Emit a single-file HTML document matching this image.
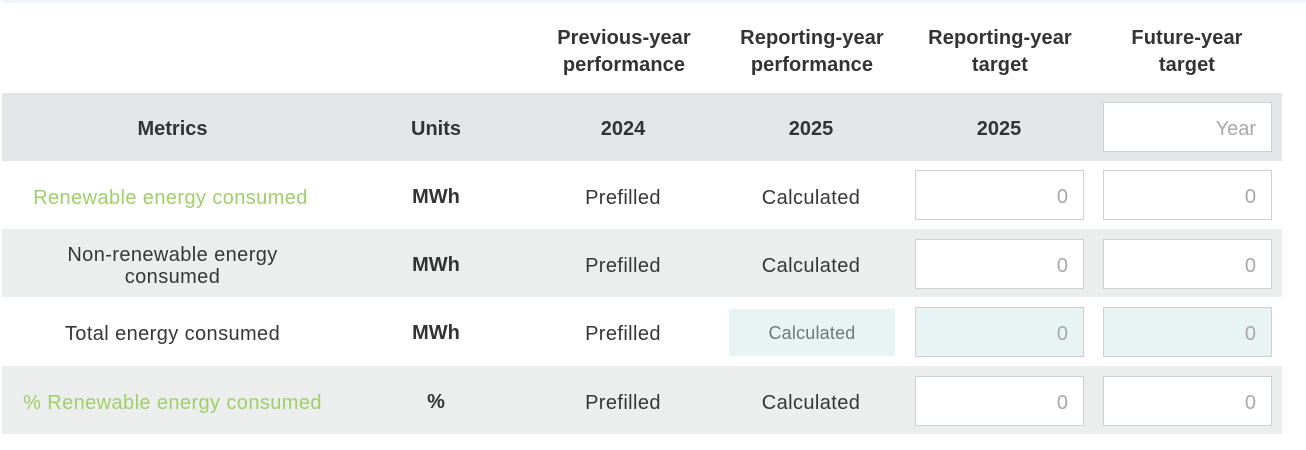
<!DOCTYPE html>
<html>
<head>
<meta charset="utf-8">
<style>
  html,body{margin:0;padding:0;background:#fff;}
  body{width:1306px;height:450px;position:relative;overflow:hidden;font-family:"Liberation Sans",Arial,sans-serif;color:#363636;}
  .abs{position:absolute;}
  .topstrip{left:2px;top:0;width:1304px;height:3px;background:#f4f7fa;}
  .hband{left:2px;top:93px;width:1280px;height:68px;background:#e4e5e7;}
  .gband{left:2px;width:1280px;height:68px;background:#eceeed;}
  .colh{top:25px;width:188px;text-align:center;font-weight:bold;font-size:20px;line-height:27px;color:#333;letter-spacing:0.1px;}
  .cell{display:flex;align-items:center;justify-content:center;text-align:center;height:68px;box-sizing:border-box;padding-top:5px;}
  .hdr{font-weight:bold;font-size:20px;color:#333;}
  .lbl{font-size:20px;letter-spacing:0.4px;color:#363636;line-height:22px;}
  .green{color:#a0cf68;}
  .unit{font-weight:bold;font-size:20px;color:#333;}
  .box{position:absolute;box-sizing:border-box;border:1.5px solid #d0d0d0;background:#fff;width:169px;height:50px;text-align:right;padding-right:15px;padding-top:3px;font-size:20px;line-height:47px;color:#a8a8a8;}
  .teal{background:#e8f4f4;}
</style>
</head>
<body>
<div class="abs topstrip"></div>

<!-- column headers -->
<div class="abs colh" style="left:530px;">Previous-year<br>performance</div>
<div class="abs colh" style="left:718px;">Reporting-year<br>performance</div>
<div class="abs colh" style="left:906px;">Reporting-year<br>target</div>
<div class="abs colh" style="left:1093px;">Future-year<br>target</div>

<!-- header band -->
<div class="abs hband"></div>
<div class="abs cell hdr" style="left:2px;top:93px;width:341px;">Metrics</div>
<div class="abs cell hdr" style="left:343px;top:93px;width:186px;">Units</div>
<div class="abs cell hdr" style="left:529px;top:93px;width:188px;">2024</div>
<div class="abs cell hdr" style="left:717px;top:93px;width:188px;">2025</div>
<div class="abs cell hdr" style="left:905px;top:93px;width:188px;">2025</div>
<div class="box" style="left:1103px;top:102px;">Year</div>

<!-- row 1 -->
<div class="abs cell lbl green" style="left:2px;top:161px;width:337px;">Renewable energy consumed</div>
<div class="abs cell unit" style="left:343px;top:161px;width:186px;">MWh</div>
<div class="abs cell lbl" style="left:529px;top:161px;width:188px;">Prefilled</div>
<div class="abs cell lbl" style="left:717px;top:161px;width:188px;">Calculated</div>
<div class="box" style="left:915px;top:170px;">0</div>
<div class="box" style="left:1103px;top:170px;">0</div>

<!-- row 2 -->
<div class="abs gband" style="top:229px;"></div>
<div class="abs cell lbl" style="left:2px;top:229px;width:341px;">Non-renewable energy<br>consumed</div>
<div class="abs cell unit" style="left:343px;top:229px;width:186px;">MWh</div>
<div class="abs cell lbl" style="left:529px;top:229px;width:188px;">Prefilled</div>
<div class="abs cell lbl" style="left:717px;top:229px;width:188px;">Calculated</div>
<div class="box" style="left:915px;top:239px;">0</div>
<div class="box" style="left:1103px;top:239px;">0</div>

<!-- row 3 -->
<div class="abs cell lbl" style="left:2px;top:297px;width:341px;">Total energy consumed</div>
<div class="abs cell unit" style="left:343px;top:297px;width:186px;">MWh</div>
<div class="abs cell lbl" style="left:529px;top:297px;width:188px;">Prefilled</div>
<div class="abs cell teal" style="left:729px;top:309px;width:166px;height:47px;padding-top:1px;font-size:18px;color:#6d7a7a;letter-spacing:0.2px;">Calculated</div>
<div class="box teal" style="left:915px;top:307px;">0</div>
<div class="box teal" style="left:1103px;top:307px;">0</div>

<!-- row 4 -->
<div class="abs gband" style="top:366px;"></div>
<div class="abs cell lbl green" style="left:2px;top:366px;width:341px;">% Renewable energy consumed</div>
<div class="abs cell unit" style="left:343px;top:366px;width:186px;">%</div>
<div class="abs cell lbl" style="left:529px;top:366px;width:188px;">Prefilled</div>
<div class="abs cell lbl" style="left:717px;top:366px;width:188px;">Calculated</div>
<div class="box" style="left:915px;top:376px;">0</div>
<div class="box" style="left:1103px;top:376px;">0</div>
</body>
</html>
